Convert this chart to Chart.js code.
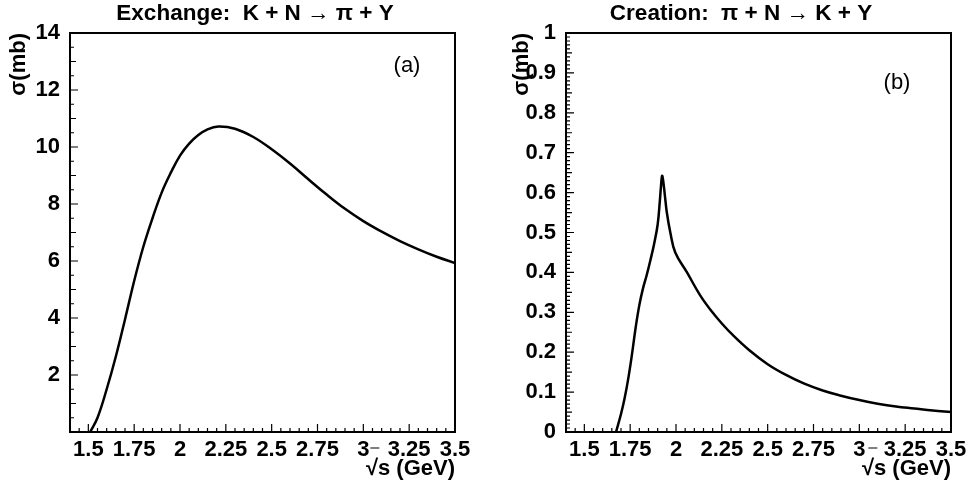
<!DOCTYPE html>
<html>
<head>
<meta charset="utf-8">
<script src="https://cdn.jsdelivr.net/npm/chart.js@4.4.1/dist/chart.umd.min.js"></script>
<style>
  html, body { margin: 0; padding: 0; background: #fff; }
  #wrap { display: flex; width: 970px; height: 491px; }
  .pad { position: relative; width: 485px; height: 491px; }
</style>
</head>
<body>
<div id="wrap">
  <div class="pad"><canvas id="exchangeChart"></canvas></div>
  <div class="pad"><canvas id="creationChart"></canvas></div>
</div>
<script>
// values
const exchangeX = [1.51, 1.55, 1.60, 1.65, 1.70, 1.75, 1.80, 1.85, 1.90, 1.95, 2.00, 2.05, 2.10, 2.15, 2.21, 2.30, 2.40, 2.50, 2.60, 2.70, 2.80, 2.90, 3.00, 3.10, 3.20, 3.30, 3.40, 3.50];
const exchangeY = [0, 0.5, 1.5, 2.65, 3.95, 5.3, 6.5, 7.5, 8.4, 9.1, 9.7, 10.12, 10.42, 10.62, 10.72, 10.64, 10.35, 9.92, 9.42, 8.87, 8.33, 7.83, 7.40, 7.03, 6.70, 6.41, 6.15, 5.93];

const creationX = [1.673, 1.70, 1.72, 1.74, 1.76, 1.78, 1.80, 1.82, 1.84, 1.86, 1.88, 1.90, 1.912, 1.918, 1.924, 1.93, 1.94, 1.95, 1.969, 1.996, 2.06, 2.131, 2.19, 2.25, 2.312, 2.40, 2.50, 2.60, 2.70, 2.80, 2.90, 3.00, 3.10, 3.20, 3.30, 3.40, 3.50];
const creationY = [0, 0.045, 0.085, 0.135, 0.195, 0.262, 0.318, 0.36, 0.393, 0.43, 0.47, 0.52, 0.58, 0.615, 0.642, 0.63, 0.59, 0.55, 0.50, 0.45, 0.40, 0.343, 0.305, 0.272, 0.242, 0.205, 0.170, 0.143, 0.121, 0.104, 0.091, 0.080, 0.071, 0.064, 0.059, 0.054, 0.050];

const xTicks = [1.5, 1.75, 2, 2.25, 2.5, 2.75, 3, 3.25, 3.5];
const exchangeYTicks = [2, 4, 6, 8, 10, 12, 14];
const creationYTicks = [0, 0.1, 0.2, 0.3, 0.4, 0.5, 0.6, 0.7, 0.8, 0.9, 1];

Chart.defaults.font.family = '"Liberation Sans", Arial, sans-serif';
Chart.defaults.color = '#000';

// ROOT-like frame with inward ticks on the left and bottom axes
const rootFrame = {
  id: 'rootFrame',
  afterDraw(chart, args, opts) {
    const { ctx, chartArea: a, scales: { x, y } } = chart;
    ctx.save();
    ctx.strokeStyle = '#000';
    ctx.lineWidth = 1.2;
    ctx.beginPath();
    // x ticks every 0.05
    for (let i = 28; i <= 70; i++) {
      const px = x.getPixelForValue(i * 0.05);
      const len = i % 5 === 0 ? 8 : 4;
      ctx.moveTo(px, a.bottom);
      ctx.lineTo(px, a.bottom - len);
    }
    // y ticks
    for (let i = 0; i <= opts.yCount; i++) {
      const py = y.getPixelForValue(i * opts.yStep);
      let len = 4;
      if (i % opts.yEvery === 0) len = 8;
      else if (i % (opts.yEvery / 2) === 0) len = 6;
      ctx.moveTo(a.left, py);
      ctx.lineTo(a.left + len, py);
    }
    // stray overbar of the sqrt sign, as in the original
    const p3 = x.getPixelForValue(3);
    ctx.moveTo(p3 + opts.barDx, 448);
    ctx.lineTo(p3 + opts.barDx + 9, 448);
    ctx.stroke();
    ctx.lineWidth = 2;
    ctx.strokeRect(a.left, a.top, a.right - a.left, a.bottom - a.top);

    // title and panel tag
    ctx.fillStyle = '#000';
    ctx.textAlign = 'center';
    ctx.textBaseline = 'alphabetic';
    ctx.font = 'bold 22.5px "Liberation Sans", Arial, sans-serif';
    ctx.fillText(opts.title, opts.titleX, 20);
    ctx.font = '22px "Liberation Sans", Arial, sans-serif';
    ctx.fillText(opts.tag, opts.tagX, opts.tagY);
    ctx.restore();
  }
};

function makeChart(id, xs, ys, yMax, yTicks, cfg) {
  const ctx = document.getElementById(id).getContext('2d');
  return new Chart(ctx, {
    type: 'line',
    data: {
      datasets: [{
        data: xs.map((v, i) => ({ x: v, y: ys[i] })),
        borderColor: '#000',
        borderWidth: 2.5,
        pointRadius: 0,
        fill: false,
        tension: 0.4
      }]
    },
    options: {
      responsive: true,
      maintainAspectRatio: false,
      animation: false,
      layout: { padding: { top: 33, right: cfg.padRight, left: 0, bottom: 0 } },
      plugins: {
        legend: { display: false },
        tooltip: { enabled: false },
        rootFrame: cfg.frame
      },
      scales: {
        x: {
          type: 'linear',
          min: 1.4,
          max: 3.5,
          afterBuildTicks: s => { s.ticks = xTicks.map(v => ({ value: v })); },
          afterFit: s => { s.height = 59; },
          grid: { display: false },
          border: { display: false },
          ticks: { font: { size: 22, weight: 'bold' }, padding: -3, maxRotation: 0, autoSkip: false, callback: v => String(v) },
          title: {
            display: true, text: '\u221As (GeV)', align: 'end',
            font: { size: 22, weight: 'bold' }, padding: { top: 0, bottom: 9 }
          }
        },
        y: {
          min: 0,
          max: yMax,
          afterBuildTicks: s => { s.ticks = yTicks.map(v => ({ value: v })); },
          afterFit: s => { s.width = cfg.axisWidth; },
          grid: { display: false },
          border: { display: false },
          ticks: { font: { size: 22, weight: 'bold' }, padding: 2, autoSkip: false, callback: v => String(v) },
          title: {
            display: true, text: '\u03C3(mb)', align: 'end',
            font: { size: 22, weight: 'bold' }, padding: { top: cfg.yTitlePad, bottom: 0 }
          }
        }
      }
    },
    plugins: [rootFrame]
  });
}

makeChart('exchangeChart', exchangeX, exchangeY, 14, exchangeYTicks, {
  padRight: 30, axisWidth: 70, yTitlePad: 6,
  frame: { yCount: 28, yStep: 0.5, yEvery: 4, barDx: 7, title: 'Exchange:  K + N \u2192 \u03C0 + Y', titleX: 255, tag: '(a)', tagX: 407, tagY: 72 }
});

makeChart('creationChart', creationX, creationY, 1, creationYTicks, {
  padRight: 19, axisWidth: 81, yTitlePad: 24,
  frame: { yCount: 100, yStep: 0.01, yEvery: 10, barDx: 9, title: 'Creation:  \u03C0 + N \u2192 K + Y', titleX: 256, tag: '(b)', tagX: 412, tagY: 89 }
});
</script>
</body>
</html>
